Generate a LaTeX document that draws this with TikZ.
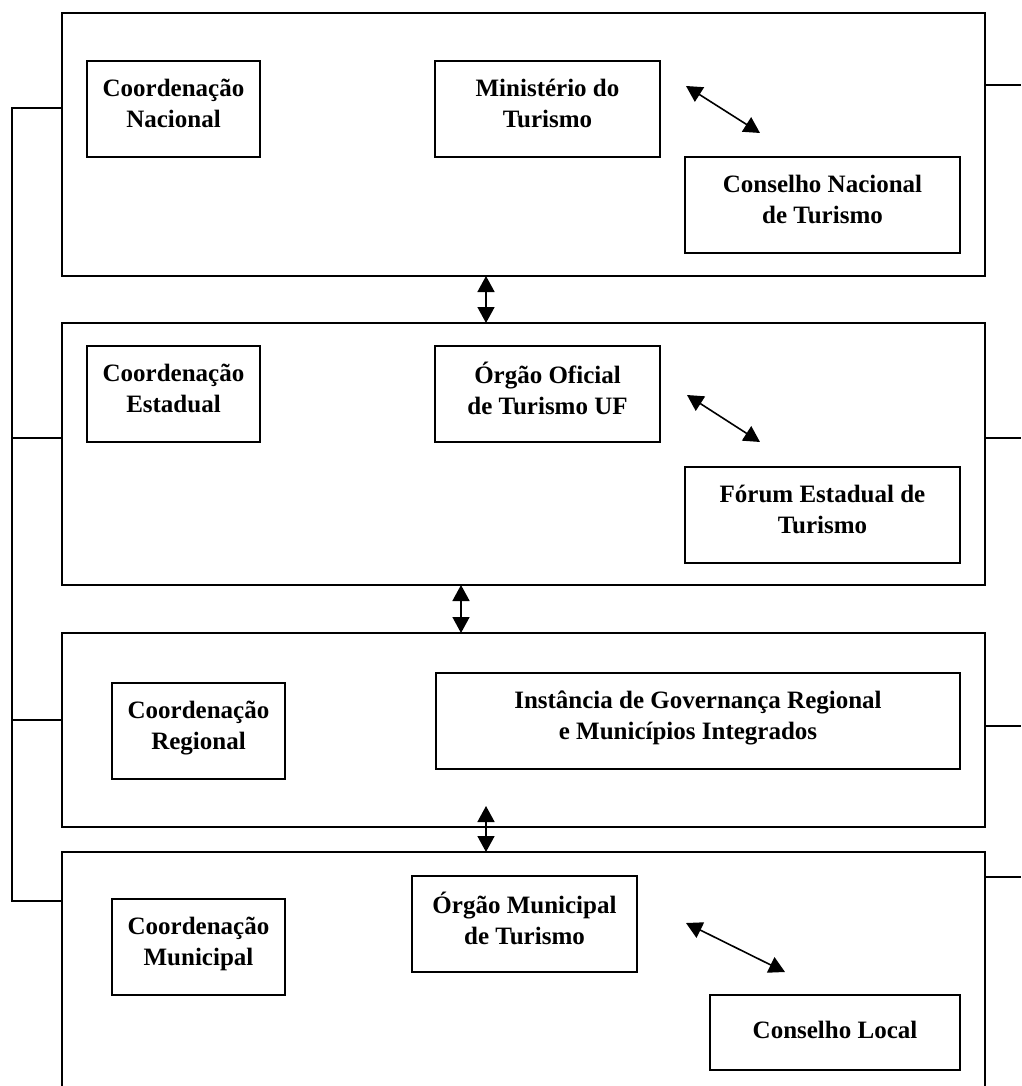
\documentclass[tikz,border=0pt]{standalone}
\usepackage{fontspec}
\setmainfont{Liberation Serif}
\usetikzlibrary{arrows.meta}
\begin{document}
\begin{tikzpicture}[x=1pt,y=-1pt,
  line width=1.6pt,
  bigbox/.style={draw,minimum width=923pt,inner sep=0pt},
  inbox/.style={draw,minimum height=96pt,inner sep=0pt,align=center,
    text depth=12pt,
    font=\fontsize{25}{31}\selectfont\bfseries},
  link/.style={{Triangle[length=16pt,width=17pt]}-{Triangle[length=16pt,width=17pt]},line width=1.6pt},
  wire/.style={line width=1.6pt}]
\useasboundingbox (0,0) rectangle (1021,1086);
% big boxes
\node[bigbox,minimum height=263pt] (L1) at (523.5,144.5) {};
\node[bigbox,minimum height=262pt] (L2) at (523.5,454) {};
\node[bigbox,minimum height=194pt] (L3) at (523.5,730) {};
\coordinate (L4nw) at (62,852);
\coordinate (L4ne) at (985,852);
\draw (62,1090) -- (L4nw) -- (L4ne) -- (985,1090);
% inner boxes
\node[inbox,minimum width=173pt] (cn) at (173.5,109) {Coordenação\\Nacional};
\node[inbox,minimum width=225pt] (mt) at (547.5,109) {Ministério do\\Turismo};
\node[inbox,minimum width=275pt] (cnt) at (822.5,205) {Conselho Nacional\\de Turismo};
\node[inbox,minimum width=173pt] (ce) at (173.5,394) {Coordenação\\Estadual};
\node[inbox,minimum width=225pt] (oo) at (547.5,394) {Órgão Oficial\\de Turismo UF};
\node[inbox,minimum width=275pt] (fe) at (822.5,515) {Fórum Estadual de\\Turismo};
\node[inbox,minimum width=173pt] (cr) at (198.5,731) {Coordenação\\Regional};
\node[inbox,minimum width=524pt] (ig) at (698,721) {Instância de Governança Regional\\e Municípios Integrados\hspace*{20pt}};
\node[inbox,minimum width=173pt] (cm) at (198.5,947) {Coordenação\\Municipal};
\node[inbox,minimum width=225pt] (om) at (524.5,924) {Órgão Municipal\\de Turismo};
\node[inbox,minimum width=250pt,minimum height=75pt,text depth=6pt] (cl) at (835,1032.5) {Conselho Local};
% arrow end points
\coordinate (a1s) at (686,86);  \coordinate (a1e) at (760,133);
\coordinate (a2s) at (687,395); \coordinate (a2e) at (760,442);
\coordinate (a4s) at (686,923); \coordinate (a4e) at (785,972);
\coordinate (v12s) at (486,276); \coordinate (v12e) at (486,323);
\coordinate (v23s) at (461,585); \coordinate (v23e) at (461,633);
\coordinate (v34s) at (486,806); \coordinate (v34e) at (486,852);
\draw[link] (a1s) -- (a1e);
\draw[link] (a2s) -- (a2e);
\draw[link] (a4s) -- (a4e);
\draw[link] (v12s) -- (v12e);
\draw[link] (v23s) -- (v23e);
\draw[link] (v34s) -- (v34e);
% left bracket
\coordinate (lt) at (12,108);
\coordinate (lb) at (12,901);
\draw[wire] (62,108) -- (lt) -- (lb) -- (62,901);
\draw[wire] (12,438) -- (62,438);
\draw[wire] (12,720) -- (62,720);
% right stubs
\coordinate (r1) at (1021,85);
\coordinate (r2) at (1021,438);
\coordinate (r3) at (1021,726);
\coordinate (r4) at (1021,877);
\draw[wire] (985,85) -- (r1);
\draw[wire] (985,438) -- (r2);
\draw[wire] (985,726) -- (r3);
\draw[wire] (985,877) -- (r4);
\end{tikzpicture}
\end{document}
